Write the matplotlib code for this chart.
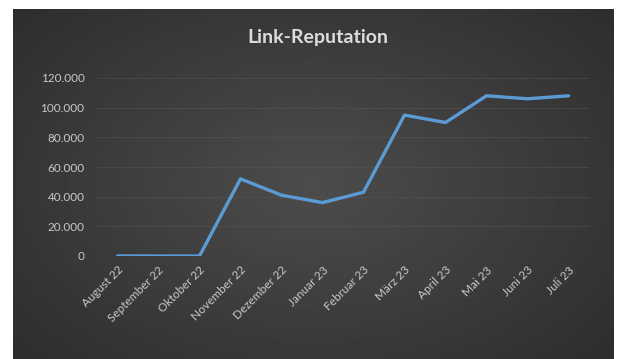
import numpy as np
import matplotlib
matplotlib.use("Agg")
import matplotlib.pyplot as plt

# ── Daten ───────────────────────────────────────────────────────────────────
monate = ["August 22", "September 22", "Oktober 22", "November 22",
          "Dezember 22", "Januar 23", "Februar 23", "März 23",
          "April 23", "Mai 23", "Juni 23", "Juli 23"]
reputation = [0, 0, 0, 52000, 41000, 36000, 43000, 95000,
              90000, 108000, 106000, 108000]
y_ticks = [0, 20000, 40000, 60000, 80000, 100000, 120000]
y_labels = ["0", "20.000", "40.000", "60.000", "80.000", "100.000", "120.000"]

plt.rcParams["font.family"] = ["Lato", "DejaVu Sans"]

fig = plt.figure(figsize=(6.17, 3.59), dpi=100, facecolor="white")

# dunkler Hintergrund mit radialem Verlauf
bg = fig.add_axes([13 / 617, 0, 601 / 617, 350 / 359])
yy, xx = np.mgrid[-1:1:200j, -1:1:300j]
r = np.sqrt(xx ** 2 + (yy * 0.9) ** 2)
shade = np.clip(0.30 - 0.09 * r, 0.17, 0.30)
bg.imshow(shade, cmap="gray", vmin=0, vmax=1, aspect="auto",
          extent=[0, 1, 0, 1], interpolation="bilinear")
bg.set_axis_off()

# ── Plot ────────────────────────────────────────────────────────────────────
ax = fig.add_axes([97 / 617, (359 - 256) / 359, 492 / 617, 178 / 359])
ax.patch.set_alpha(0)
x = np.arange(len(monate))
ax.plot(x, reputation, color="#5b9bd5", linewidth=2.4,
        solid_capstyle="round", solid_joinstyle="round")

ax.set_xlim(-0.5, len(monate) - 0.5)
ax.set_ylim(0, 120000)
ax.set_yticks(y_ticks)
ax.set_yticklabels(y_labels)
ax.set_xticks(x)
ax.set_xticklabels(monate, rotation=45, ha="right", rotation_mode="anchor")
ax.tick_params(length=0, colors="#c8c8c8", labelsize=8.5, pad=9)
ax.tick_params(axis="x", pad=6)
ax.grid(axis="y", color="#5a5a5a", linewidth=0.6, alpha=0.5)
for s in ax.spines.values():
    s.set_visible(False)

fig.text(318 / 617, 1 - 38 / 359, "Link-Reputation", ha="center",
         va="center", fontsize=14, fontweight="bold", color="#dcdcdc")

plt.savefig("out.png", dpi=100, facecolor="white")
